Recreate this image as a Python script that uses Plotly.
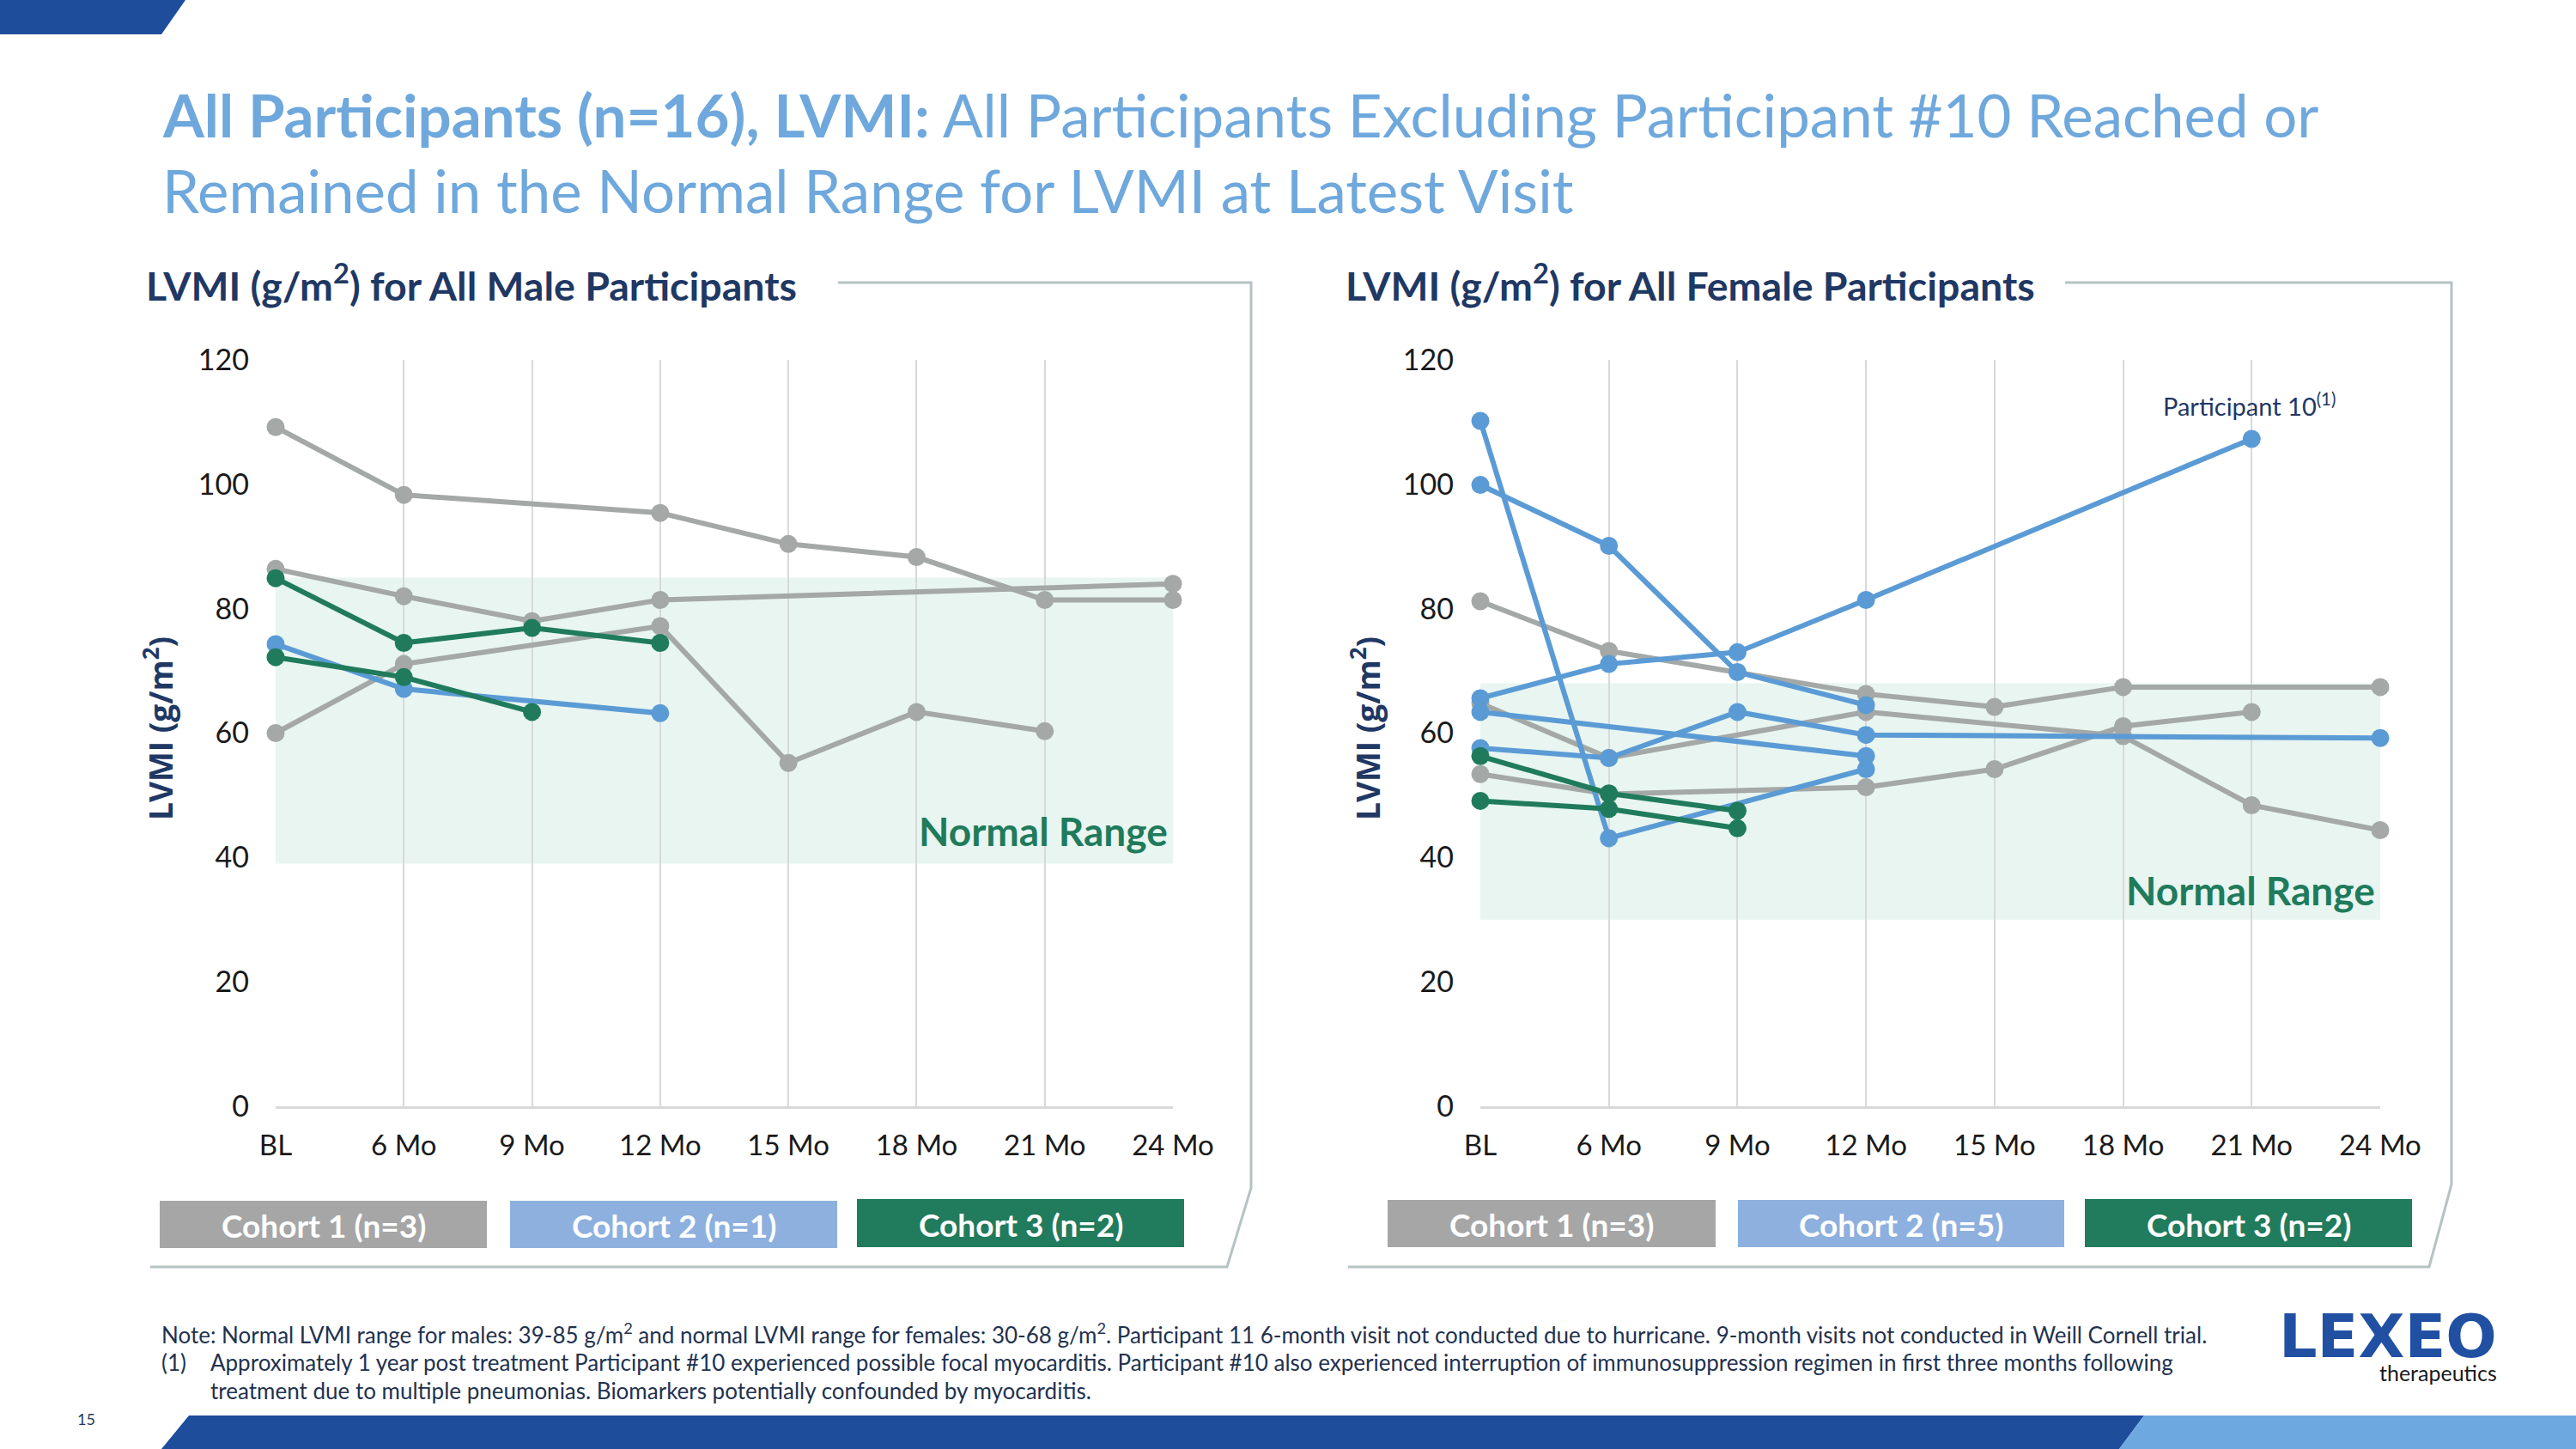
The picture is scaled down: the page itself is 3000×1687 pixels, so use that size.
import plotly.graph_objects as go

W, H = 3000, 1687

# ---------------- data ----------------
visits = ["BL", "6 Mo", "9 Mo", "12 Mo", "15 Mo", "18 Mo", "21 Mo", "24 Mo"]
y_ticks = [0, 20, 40, 60, 80, 100, 120]

# Male participants (LVMI g/m2)
male_c1_a = [109.2, 98.3, None, 95.4, 90.4, 88.3, 81.4, 81.4]
male_c1_b = [86.4, 82.0, 78.0, 81.4, None, None, None, 84.0]
male_c1_c = [60.0, 71.1, None, 77.2, 55.2, 63.4, 60.3, None]
male_c2_a = [74.3, 67.1, None, 63.2, None, None, None, None]
male_c3_a = [84.9, 74.5, 76.9, 74.5, None, None, None, None]
male_c3_b = [72.2, 69.0, 63.4, None, None, None, None, None]

# Female participants (LVMI g/m2)
fem_c1_a = [81.2, 73.2, None, 66.3, 64.2, 67.4, None, 67.4]
fem_c1_b = [64.8, 56.0, None, 63.4, None, 59.5, 48.4, 44.4]
fem_c1_c = [53.4, 50.2, None, 51.3, 54.2, 61.1, 63.4, None]
fem_c2_a = [110.2, 43.1, None, 54.2, None, None, None, None]
fem_c2_b = [99.9, 90.1, 69.8, 64.5, None, None, None, None]
fem_c2_p10 = [65.6, 71.1, 73.0, 81.4, None, None, 107.3, None]
fem_c2_d = [63.4, None, None, 56.3, None, None, None, None]
fem_c2_e = [57.6, 56.0, 63.4, 59.7, None, None, None, 59.2]
fem_c3_a = [56.3, 50.3, 47.5, None, None, None, None, None]
fem_c3_b = [49.1, 47.8, 44.7, None, None, None, None, None]

male_normal = [39, 85]
female_normal = [30, 68]

male_cohorts = ["Cohort 1 (n=3)", "Cohort 2 (n=1)", "Cohort 3 (n=2)"]
female_cohorts = ["Cohort 1 (n=3)", "Cohort 2 (n=5)", "Cohort 3 (n=2)"]

# ---------------- styles ----------------
GRAY = "#A4A8A6"
BLUE = "#5B9BD5"
GREEN = "#1F7B5B"
NAVY = "#1F3864"
TITLE_BLUE = "#6FA8DC"
FONT = "Lato"
BOX_COLORS = ["#A6A6A6", "#8DB0DE", "#217B5D"]


def px(x):
    return x / W


def py(y):
    return 1 - y / H


fig = go.Figure()


def add_series(vals, color, xa, ya):
    fig.add_trace(go.Scatter(
        x=visits, y=vals, mode="lines+markers", connectgaps=True,
        line=dict(color=color, width=6), marker=dict(color=color, size=21),
        xaxis=xa, yaxis=ya, cliponaxis=False, showlegend=False,
        hoverinfo="x+y"))


for s in [male_c1_a, male_c1_b, male_c1_c]:
    add_series(s, GRAY, "x", "y")
for s in [male_c2_a]:
    add_series(s, BLUE, "x", "y")
for s in [male_c3_a, male_c3_b]:
    add_series(s, GREEN, "x", "y")

for s in [fem_c1_a, fem_c1_b, fem_c1_c]:
    add_series(s, GRAY, "x2", "y2")
for s in [fem_c2_a, fem_c2_b, fem_c2_p10, fem_c2_d, fem_c2_e]:
    add_series(s, BLUE, "x2", "y2")
for s in [fem_c3_a, fem_c3_b]:
    add_series(s, GREEN, "x2", "y2")

ydom = [py(1288), py(419)]
xcommon = dict(
    type="category", categoryorder="array", categoryarray=visits,
    range=[0, 7], showgrid=True, gridcolor="#D9D9D9", gridwidth=2,
    showline=True, linecolor="#D9D9D9", linewidth=3, zeroline=False,
    ticks="", tickfont=dict(family=FONT, size=33, color="#1A1A1A"),
    ticklabelstandoff=14, fixedrange=True, automargin=False)
ycommon = dict(
    range=[0, 120], tickmode="array", tickvals=y_ticks, showgrid=False,
    zeroline=False, showline=False, ticks="",
    tickfont=dict(family=FONT, size=34, color="#1A1A1A"),
    ticklabelstandoff=30, fixedrange=True, automargin=False)

fig.update_layout(
    width=W, height=H, autosize=False,
    margin=dict(l=0, r=0, t=0, b=0, pad=0, autoexpand=False),
    paper_bgcolor="white", plot_bgcolor="rgba(0,0,0,0)",
    xaxis=dict(domain=[px(321), px(1366)], anchor="y", **xcommon),
    yaxis=dict(domain=ydom, anchor="x", **ycommon),
    xaxis2=dict(domain=[px(1724), px(2772)], anchor="y2", **xcommon),
    yaxis2=dict(domain=ydom, anchor="x2", **ycommon),
    font=dict(family=FONT),
    showlegend=False,
)

shapes = []
# normal range bands
shapes.append(dict(type="rect", xref="x domain", yref="y", x0=0, x1=1,
                   y0=male_normal[0], y1=male_normal[1],
                   fillcolor="#E8F5F0", line=dict(width=0), layer="below"))
shapes.append(dict(type="rect", xref="x2 domain", yref="y2", x0=0, x1=1,
                   y0=female_normal[0], y1=female_normal[1],
                   fillcolor="#E8F5F0", line=dict(width=0), layer="below"))


def path(points, close=False):
    s = "M " + " L ".join(f"{px(x):.5f},{py(y):.5f}" for x, y in points)
    return s + (" Z" if close else "")


# panel frames
FRAME = "#B5C3C3"
shapes.append(dict(type="path", xref="paper", yref="paper",
                   path=path([(976, 329), (1457, 329), (1457, 1383), (1429, 1475), (175, 1475)]),
                   line=dict(color=FRAME, width=3)))
shapes.append(dict(type="path", xref="paper", yref="paper",
                   path=path([(2405, 329), (2855, 329), (2855, 1379), (2829, 1475), (1570, 1475)]),
                   line=dict(color=FRAME, width=3)))

# top-left and bottom decorative bars
shapes.append(dict(type="path", xref="paper", yref="paper",
                   path=path([(0, 0), (216, 0), (188, 40), (0, 40)], True),
                   fillcolor="#1E4D9C", line=dict(width=0)))
shapes.append(dict(type="path", xref="paper", yref="paper",
                   path=path([(220, 1648), (2497, 1648), (2468, 1687), (188, 1687)], True),
                   fillcolor="#1E4D9C", line=dict(width=0)))
shapes.append(dict(type="path", xref="paper", yref="paper",
                   path=path([(2497, 1648), (3000, 1648), (3000, 1687), (2468, 1687)], True),
                   fillcolor="#6EA8E0", line=dict(width=0)))

annotations = []


def text(x, y, t, size, color, bold=False, xanchor="left", family=FONT, angle=0):
    annotations.append(dict(
        x=px(x), y=py(y), xref="paper", yref="paper", text=(f"<b>{t}</b>" if bold else t),
        showarrow=False, xanchor=xanchor, yanchor="middle", textangle=angle,
        font=dict(family=family, size=size, color=color)))


# cohort boxes
left_boxes = [(186, 567, 1398, 1453), (594, 975, 1398, 1453), (998, 1379, 1396, 1452)]
right_boxes = [(1616, 1998, 1397, 1452), (2024, 2404, 1397, 1452), (2428, 2809, 1396, 1452)]
for boxes, labels in [(left_boxes, male_cohorts), (right_boxes, female_cohorts)]:
    for (x0, x1, y0, y1), lab, col in zip(boxes, labels, BOX_COLORS):
        shapes.append(dict(type="rect", xref="paper", yref="paper",
                           x0=px(x0), x1=px(x1), y0=py(y1), y1=py(y0),
                           fillcolor=col, line=dict(width=0)))
        text((x0 + x1) / 2, (y0 + y1) / 2 + 1, lab, 37, "white", bold=True, xanchor="center")

# titles
text(187, 134, "<b>All Participants (n=16), LVMI:</b> All Participants Excluding Participant #10 Reached or",
     69, TITLE_BLUE)
text(187, 222, "Remained in the Normal Range for LVMI at Latest Visit", 69, TITLE_BLUE)

# panel subtitles
text(168, 329, "LVMI (g/m<sup>2</sup>) for All Male Participants", 46.5, NAVY, bold=True)
text(1565, 329, "LVMI (g/m<sup>2</sup>) for All Female Participants", 46.5, NAVY, bold=True)

# y-axis titles
text(184, 848, "LVMI (g/m<sup>2</sup>)", 37, NAVY, bold=True, xanchor="center",
     family="Open Sans", angle=-90)
text(1590, 848, "LVMI (g/m<sup>2</sup>)", 37, NAVY, bold=True, xanchor="center",
     family="Open Sans", angle=-90)

# Normal range labels (data coords)
annotations.append(dict(x=7, y=44.2, xref="x", yref="y", text="<b>Normal Range</b>",
                        showarrow=False, xanchor="right", yanchor="middle", xshift=-4,
                        font=dict(family=FONT, size=46, color=GREEN)))
annotations.append(dict(x=7, y=34.7, xref="x2", yref="y2", text="<b>Normal Range</b>",
                        showarrow=False, xanchor="right", yanchor="middle", xshift=-4,
                        font=dict(family=FONT, size=46, color=GREEN)))
annotations.append(dict(x="21 Mo", y=112.8, xref="x2", yref="y2",
                        text="Participant 10<sup>(1)</sup>",
                        showarrow=False, xanchor="center", yanchor="middle", xshift=-3,
                        font=dict(family=FONT, size=29, color=NAVY)))

# footnotes
FOOT = "#22324F"
text(186, 1552, "Note: Normal LVMI range for males: 39-85 g/m<sup>2</sup> and normal LVMI range for females: 30-68 g/m<sup>2</sup>. "
     "Participant 11 6-month visit not conducted due to hurricane. 9-month visits not conducted in Weill Cornell trial.",
     26, FOOT)
text(186, 1586, "(1)", 26, FOOT)
text(243, 1586, "Approximately 1 year post treatment Participant #10 experienced possible focal myocarditis. "
     "Participant #10 also experienced interruption of immunosuppression regimen in first three months following",
     26, FOOT)
text(243, 1619, "treatment due to multiple pneumonias. Biomarkers potentially confounded by myocarditis.", 26, FOOT)
text(100, 1652, "15", 18, NAVY, xanchor="center")

# logo
text(2910, 1556, "<b>LEXEO</b>", 70, "#2150A3", xanchor="right", family="DejaVu Sans")
text(2910, 1598, "therapeutics", 25, "#1A1A1A", xanchor="right")

fig.update_layout(shapes=shapes, annotations=annotations)
fig.write_html(
    "out.html",
    post_script=("document.documentElement.style.margin='0';document.body.style.margin='0';"
                 "document.documentElement.style.overflow='hidden';document.body.style.overflow='hidden';"),
)
